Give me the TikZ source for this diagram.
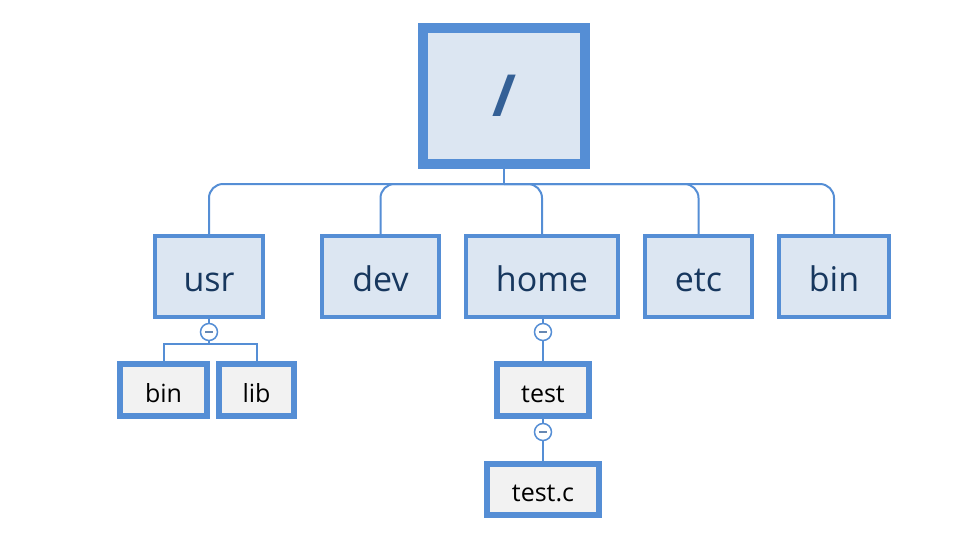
\documentclass[tikz,border=0pt]{standalone}
\usepackage{fontspec}
\setmainfont{Open Sans}
\definecolor{dirblue}{RGB}{85,142,213}
\definecolor{dirfill}{RGB}{220,230,242}
\definecolor{filefill}{RGB}{242,242,242}
\definecolor{dirtext}{RGB}{23,55,94}
\definecolor{roottext}{RGB}{52,96,150}

\tikzset{
    rootbox/.style={draw=dirblue, fill=dirfill, line width=10pt, minimum width=162pt, minimum height=136pt, inner sep=0pt, text=roottext, font=\fontsize{58}{60}\selectfont\bfseries},
    dirbox/.style={draw=dirblue, fill=dirfill, line width=4pt, minimum height=81pt, inner sep=0pt, text height=29pt, text depth=0pt, text=dirtext, font=\fontsize{34}{36}\selectfont},
    filebox/.style={draw=dirblue, fill=filefill, line width=6pt, minimum height=52pt, inner sep=0pt, text height=24pt, text depth=0pt, text=black, font=\fontsize{25}{27}\selectfont},
    link/.style={draw=dirblue, line width=2pt},
    toggle/.style={circle, draw=dirblue, fill=white, line width=1.5pt, minimum size=17pt, inner sep=0pt,
        path picture={\draw[draw=dirblue!60!gray, line width=1.5pt] ([xshift=-4pt]path picture bounding box.center) -- ([xshift=4pt]path picture bounding box.center);}}
}

\begin{document}
\begin{tikzpicture}[x=1pt, y=-1pt]
    \useasboundingbox (0,0) rectangle (956,536);

    % root and first level
    \node[rootbox] (root) at (504,96) {/};
    \node[dirbox, minimum width=108pt] (usr) at (209,276.5) {usr};
    \node[dirbox, minimum width=117pt] (dev) at (380.5,276.5) {dev};
    \node[dirbox, minimum width=152pt] (home) at (542,276.5) {home};
    \node[dirbox, minimum width=107pt] (etc) at (698.5,276.5) {etc};
    \node[dirbox, minimum width=110pt] (bin) at (834,276.5) {bin};

    \coordinate (bus) at (504,184);
    \draw[link] (root.south) -- (bus);
    \foreach \d in {usr,dev,home,etc,bin}
        \draw[link, rounded corners=14pt] (bus) -| (\d.north);

    % under usr
    \node[filebox, minimum width=87pt] (usrbin) at (163.5,390) {bin};
    \node[filebox, minimum width=75pt] (usrlib) at (256.5,390) {lib};
    \coordinate (usrfork) at (209,344);
    \draw[link] (usr.south) -- (usrfork);
    \draw[link] (usrfork) -| (usrbin.north);
    \draw[link] (usrfork) -| (usrlib.north);
    \node[toggle] (usrtog) at (209,332) {};

    % under home
    \node[filebox, minimum width=92pt] (test) at (543,390) {test};
    \node[filebox, minimum width=112pt, minimum height=51pt] (testc) at (543,489.5) {test.c};
    \draw[link] (test.north |- home.south) -- (test.north);
    \draw[link] (test.south) -- (testc.north);
    \node[toggle] (hometog) at (543,332) {};
    \node[toggle] (testtog) at (543,432) {};
\end{tikzpicture}
\end{document}
